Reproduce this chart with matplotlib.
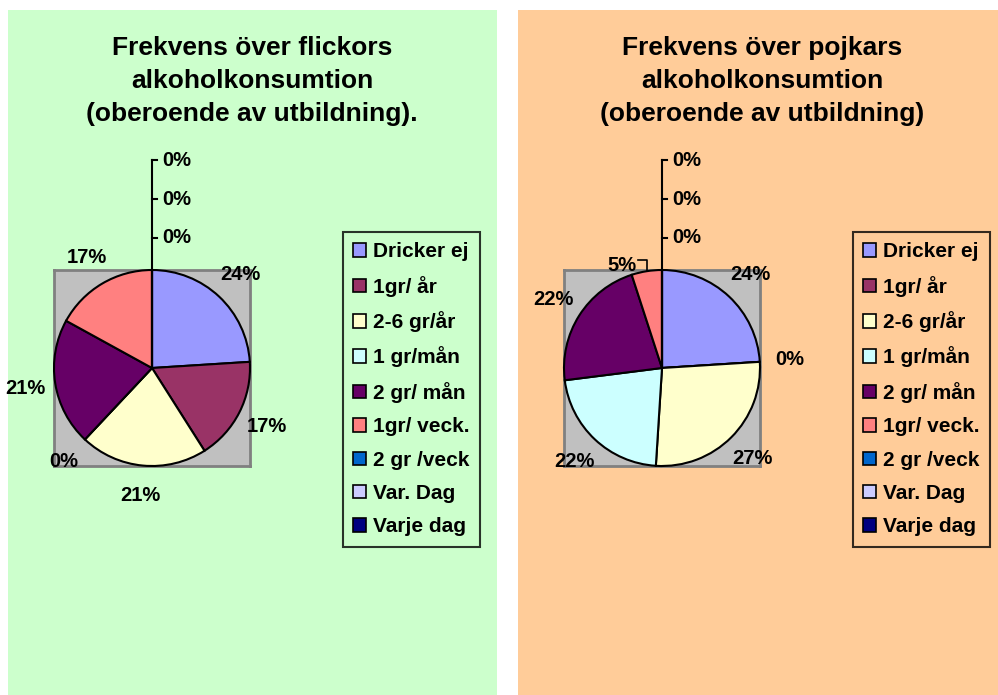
import numpy as np
import matplotlib
matplotlib.use('Agg')
import matplotlib.pyplot as plt
from matplotlib.patches import Rectangle, Patch

plt.rcParams['font.family'] = ['Liberation Sans', 'DejaVu Sans']
plt.rcParams['font.weight'] = 'bold'

# kategorier och värden (procent)
kategorier = ['Dricker ej', '1gr/ år', '2-6 gr/år', '1 gr/mån', '2 gr/ mån',
              '1gr/ veck.', '2 gr /veck', 'Var. Dag', 'Varje dag']
flickor = [24, 17, 21, 0, 21, 17, 0, 0, 0]
pojkar = [24, 0, 27, 22, 22, 5, 0, 0, 0]
farger = ['#9999FF', '#993366', '#FFFFCC', '#CCFFFF', '#660066',
          '#FF8080', '#0066CC', '#CCCCFF', '#000080']

titel_f = 'Frekvens över flickors\nalkoholkonsumtion\n(oberoende av utbildning).'
titel_p = 'Frekvens över pojkars\nalkoholkonsumtion\n(oberoende av utbildning)'

W, H = 998, 695
fig = plt.figure(figsize=(W / 100, H / 100), dpi=100)
fig.patch.set_facecolor('white')


def fx(px):
    return px / W


def fy(py):
    return 1 - py / H


# bakgrundspaneler
fig.patches.append(Rectangle((fx(8), 0), fx(497 - 8), fy(10), transform=fig.transFigure,
                             facecolor='#CCFFCC', edgecolor='none', zorder=-5))
fig.patches.append(Rectangle((fx(518), 0), fx(998 - 518), fy(10), transform=fig.transFigure,
                             facecolor='#FFCC99', edgecolor='none', zorder=-5))


def rita_paj(cx, cy, varden, titel, tcx, legx, flytta=None):
    r = 98
    ax = fig.add_axes([fx(cx - r), fy(cy + r), fx(2 * r), 2 * r / H])
    ax.set_zorder(2)
    wedges, _ = ax.pie(varden, colors=farger, startangle=90, counterclock=False,
                       radius=1, frame=True,
                       wedgeprops=dict(edgecolor='black', linewidth=1.5))
    for w in wedges:
        w.set_clip_on(False)
        w.set_zorder(3)
    ax.set_facecolor('#C0C0C0')
    for s in ax.spines.values():
        s.set_visible(True)
        s.set_edgecolor('#808080')
        s.set_linewidth(2)
        s.set_zorder(1)
    ax.set_xlim(-1, 1)
    ax.set_ylim(-1, 1)
    ax.set_aspect('auto')
    ax.set_xticks([])
    ax.set_yticks([])

    tot = sum(varden)
    vinkel = 90.0
    topp = []
    for i, v in enumerate(varden):
        span = 360.0 * v / tot
        mid = vinkel - span / 2
        vinkel -= span
        txt = '%d%%' % round(100 * v / tot)
        if v == 0 and abs(vinkel % 360 - 90) < 1e-6:
            topp.append(txt)
            continue
        a = np.deg2rad(mid)
        if flytta and i in flytta:
            lx, ly = flytta[i]
            ex, ey = np.cos(a), np.sin(a)
            ax.plot([lx + 0.17, ex, ex], [ly + 0.05, ly + 0.05, ey], color='black',
                    lw=1.2, clip_on=False)
        else:
            lx, ly = 1.31 * np.cos(a), 1.31 * np.sin(a)
        ax.text(lx, ly, txt, ha='center', va='center', fontsize=14.5,
                fontweight='bold', clip_on=False)

    # nollvärden samlade längs en linje uppåt
    hojder = [1.33, 1.72, 2.12][:len(topp)]
    if topp:
        ax.plot([0, 0], [1, max(hojder)], color='black', lw=1.5, clip_on=False)
        for h, txt in zip(hojder, topp):
            ax.plot([0, 0.05], [h, h], color='black', lw=1.5, clip_on=False)
            ax.text(0.1, h, txt, ha='left', va='center', fontsize=14.5,
                    fontweight='bold', clip_on=False)

    fig.text(fx(tcx), fy(81), titel, ha='center', va='center', fontsize=19,
             fontweight='bold', linespacing=1.45)

    handles = [Patch(facecolor=c, edgecolor='black', linewidth=1.2) for c in farger]
    leg = fig.legend(handles, kategorier, loc='upper left',
                     bbox_to_anchor=(fx(legx), fy(232)), fontsize=15,
                     frameon=True, fancybox=False, facecolor='none',
                     borderpad=0.5, labelspacing=0.69, handlelength=0.62,
                     handleheight=0.62, handletextpad=0.3, borderaxespad=0)
    leg.get_frame().set_edgecolor('black')
    leg.get_frame().set_linewidth(1.5)
    for t in leg.get_texts():
        t.set_fontweight('bold')


rita_paj(152, 368, flickor, titel_f, 252, 343)
rita_paj(662, 368, pojkar, titel_p, 762, 853, flytta={5: (-0.41, 1.05)})

fig.savefig('out.png', dpi=100)
